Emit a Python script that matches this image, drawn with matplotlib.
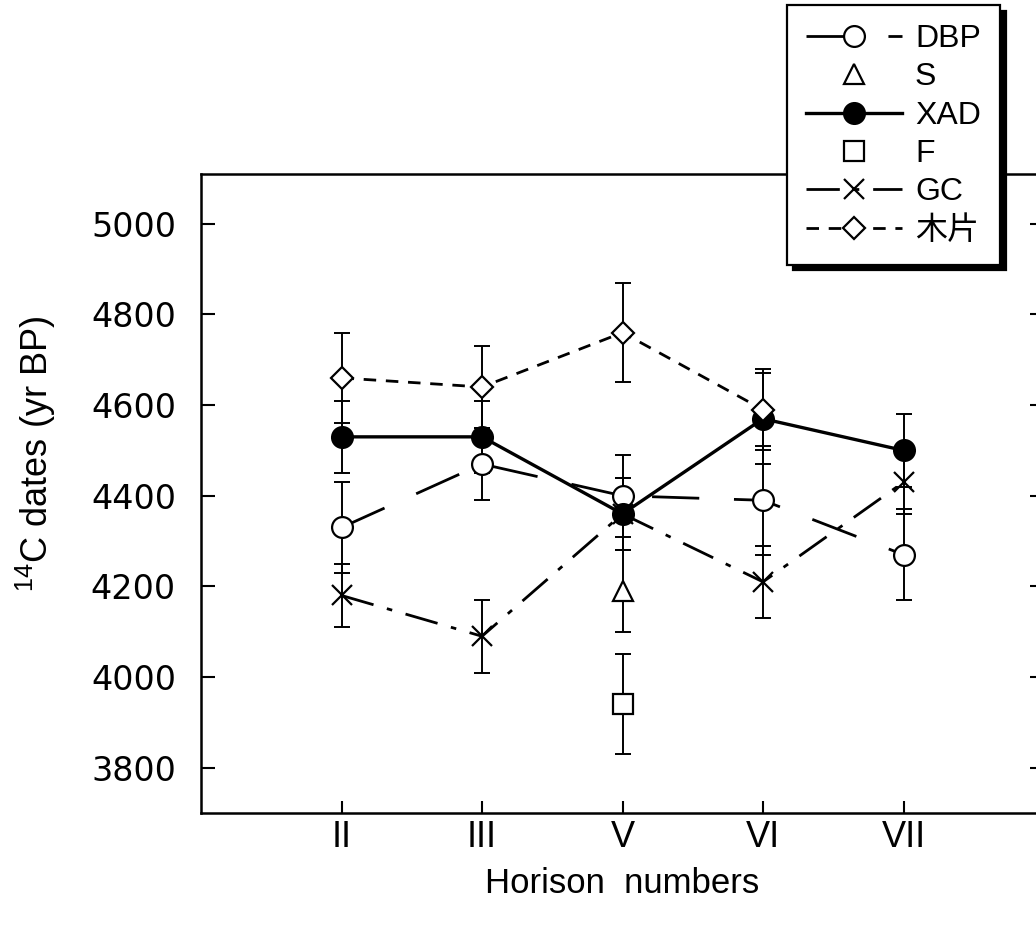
import numpy as np
import matplotlib
matplotlib.use("Agg")
import matplotlib.pyplot as plt

plt.rcParams['font.family'] = ['Liberation Sans', 'Noto Sans CJK JP']
plt.rcParams['mathtext.fontset'] = 'custom'
plt.rcParams['mathtext.rm'] = 'Liberation Sans'
plt.rcParams['mathtext.it'] = 'Liberation Sans:italic'

# ---- data ----
horizons = ['II', 'III', 'V', 'VI', 'VII']

dbp_h = ['II', 'III', 'V', 'VI', 'VII']
dbp = [4330, 4470, 4400, 4390, 4270]
dbp_err = [100, 80, 90, 120, 100]

s_h = ['V']
s_val = [4190]
s_err = [90]

xad_h = ['II', 'III', 'V', 'VI', 'VII']
xad = [4530, 4530, 4360, 4570, 4500]
xad_err = [80, 80, 80, 100, 80]

f_h = ['V']
f_val = [3940]
f_err = [110]

gc_h = ['II', 'III', 'V', 'VI', 'VII']
gc = [4180, 4090, 4360, 4210, 4430]
gc_err = [70, 80, 80, 80, 70]

wood_h = ['II', 'III', 'V', 'VI']
wood = [4660, 4640, 4760, 4590]
wood_err = [100, 90, 110, 90]

yticks = [3800, 4000, 4200, 4400, 4600, 4800, 5000]

pos = {h: i + 1 for i, h in enumerate(horizons)}
def px(hs):
    return [pos[h] for h in hs]

fig = plt.figure(figsize=(10.36, 9.33), dpi=100)
ax = fig.add_axes([201 / 1036, 120 / 933, 843 / 1036, 639 / 933])

ebkw = dict(fmt='none', ecolor='black', elinewidth=1.4, capsize=6, capthick=1.4, zorder=2)
mk = dict(markeredgecolor='black', markeredgewidth=1.6, color='black')

series = [
    ('DBP', dbp_h, dbp, dbp_err, dict(marker='o', ms=15, markerfacecolor='white', lw=2.0,
                                      linestyle=(0, (17, 12.5)))),
    ('S', s_h, s_val, s_err, dict(marker='^', ms=14, markerfacecolor='white', linestyle='none')),
    ('F', f_h, f_val, f_err, dict(marker='s', ms=14, markerfacecolor='white', linestyle='none')),
    ('GC', gc_h, gc, gc_err, dict(marker='x', ms=15, lw=2.0, linestyle=(0, (12, 5, 2, 5)))),
    ('XAD', xad_h, xad, xad_err, dict(marker='o', ms=15, markerfacecolor='black', lw=2.4,
                                      linestyle='-')),
    ('木片', wood_h, wood, wood_err, dict(marker='D', ms=11, markerfacecolor='white', lw=2.0,
                                        linestyle=(0, (4.5, 3.5)))),
]

handles = {}
for i, (name, hs, vals, errs, st) in enumerate(series):
    ax.errorbar(px(hs), vals, yerr=errs, **ebkw)
    ln, = ax.plot(px(hs), vals, label=name, zorder=3 + i * 0.1, **mk, **st)
    handles[name] = ln

ax.set_xlim(0, 6)
ax.set_ylim(3700, 5110)
ax.set_xticks(range(1, len(horizons) + 1))
ax.set_xticklabels(horizons, fontsize=26)
ax.set_yticks(yticks)
ax.set_yticklabels([str(v) for v in yticks], fontsize=24, family='DejaVu Sans')
ax.tick_params(axis='y', direction='in', length=10, width=1.5, pad=18, left=True, right=True)
ax.tick_params(axis='x', direction='in', length=9, width=1.5, pad=5)
for sp in ax.spines.values():
    sp.set_linewidth(1.8)

ax.set_xlabel('Horison  numbers', fontsize=25, labelpad=9)
ax.set_ylabel('$^{14}$C dates (yr BP)', fontsize=26)
ax.yaxis.set_label_coords(-0.17, 0.562)

order = ['DBP', 'S', 'XAD', 'F', 'GC', '木片']
leg = ax.legend([handles[k] for k in order], order, loc='upper right',
                bbox_to_anchor=(1000 / 1036, 1 - 5 / 933), bbox_transform=fig.transFigure,
                borderaxespad=0,
                fontsize=23, numpoints=1, handlelength=3.0, handletextpad=0.4,
                labelspacing=0.26, borderpad=0.6, fancybox=False, frameon=True,
                shadow={'ox': 4, 'oy': -4, 'color': 'black', 'alpha': 1})
leg.get_frame().set_edgecolor('black')
leg.get_frame().set_linewidth(1.6)
leg.get_frame().set_alpha(1)
leg.set_zorder(10)

fig.savefig('out.png', dpi=100)
